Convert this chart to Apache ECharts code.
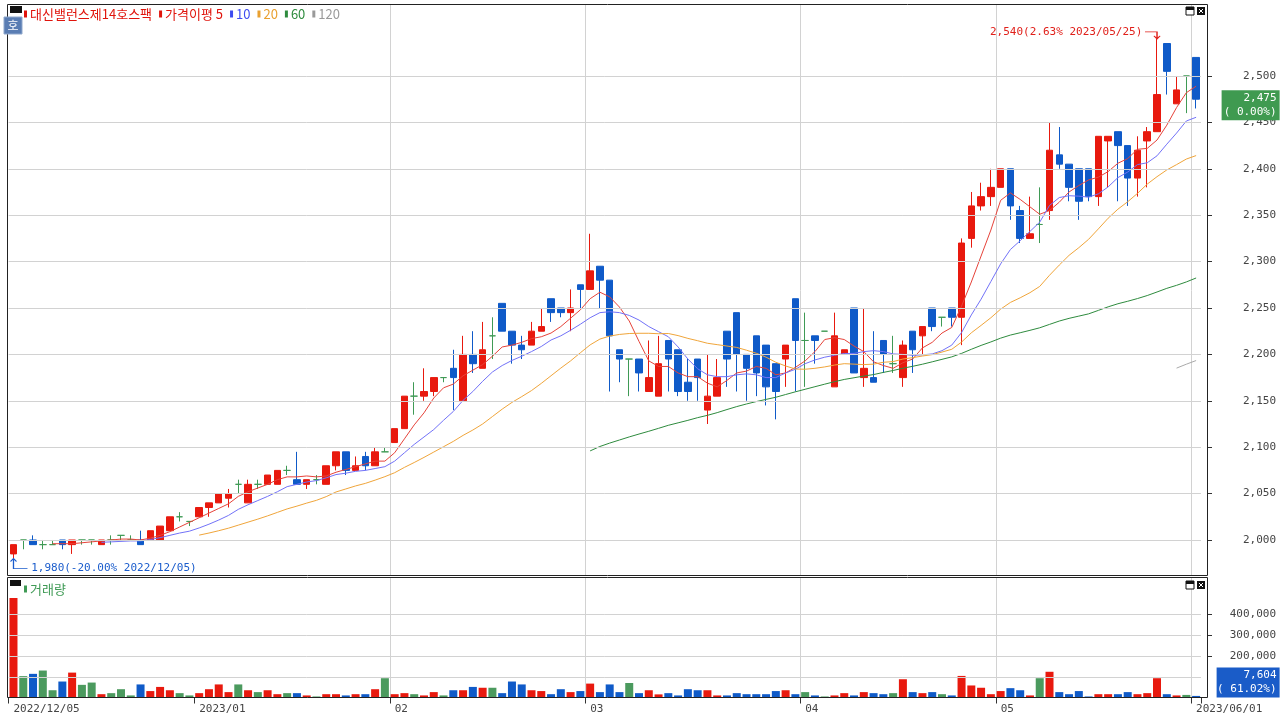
<!DOCTYPE html>
<html><head><meta charset="utf-8">
<script src="https://cdn.jsdelivr.net/npm/echarts@6/dist/echarts.min.js"></script>
<style>html,body{margin:0;padding:0;background:#fff}#c{width:1280px;height:720px}</style>
</head><body><div id="c"></div>
<script>
const dates = [
'2022/12/05','2022/12/06','2022/12/07','2022/12/08','2022/12/09','2022/12/12','2022/12/13','2022/12/14','2022/12/15','2022/12/16',
'2022/12/19','2022/12/20','2022/12/21','2022/12/22','2022/12/23','2022/12/26','2022/12/27','2022/12/28','2022/12/29',
'2023/01/02','2023/01/03','2023/01/04','2023/01/05','2023/01/06','2023/01/09','2023/01/10','2023/01/11','2023/01/12','2023/01/13',
'2023/01/16','2023/01/17','2023/01/18','2023/01/19','2023/01/20','2023/01/25','2023/01/26','2023/01/27','2023/01/30','2023/01/31',
'2023/02/01','2023/02/02','2023/02/03','2023/02/06','2023/02/07','2023/02/08','2023/02/09','2023/02/10','2023/02/13','2023/02/14',
'2023/02/15','2023/02/16','2023/02/17','2023/02/20','2023/02/21','2023/02/22','2023/02/23','2023/02/24','2023/02/27','2023/02/28',
'2023/03/02','2023/03/03','2023/03/06','2023/03/07','2023/03/08','2023/03/09','2023/03/10','2023/03/13','2023/03/14','2023/03/15',
'2023/03/16','2023/03/17','2023/03/20','2023/03/21','2023/03/22','2023/03/23','2023/03/24','2023/03/27','2023/03/28','2023/03/29',
'2023/03/30','2023/03/31',
'2023/04/03','2023/04/04','2023/04/05','2023/04/06','2023/04/07','2023/04/10','2023/04/11','2023/04/12','2023/04/13','2023/04/14',
'2023/04/17','2023/04/18','2023/04/19','2023/04/20','2023/04/21','2023/04/24','2023/04/25','2023/04/26','2023/04/27','2023/04/28',
'2023/05/02','2023/05/03','2023/05/04','2023/05/08','2023/05/09','2023/05/10','2023/05/11','2023/05/12','2023/05/15','2023/05/16',
'2023/05/17','2023/05/18','2023/05/19','2023/05/22','2023/05/23','2023/05/24','2023/05/25','2023/05/26','2023/05/30','2023/05/31',
'2023/06/01'];

const opens = [1985,2000,2000,1995,1995,2000,1995,2000,2000,1995, 2000,2005,2000,2000,2000,2000,2010,2025,2020,2025,
 2035,2040,2045,2060,2040,2060,2060,2060,2075,2065, 2060,2065,2060,2080,2095,2075,2090,2080,2095,2105,
 2120,2155,2155,2160,2175,2185,2150,2200,2185,2220, 2255,2225,2210,2210,2225,2260,2250,2245,2275,2270,
 2295,2280,2205,2195,2195,2160,2155,2215,2205,2170, 2195,2140,2155,2225,2245,2200,2220,2210,2190,2195,
 2260,2215,2220,2225,2165,2200,2250,2175,2175,2215, 2190,2175,2225,2220,2250,2240,2250,2240,2325,2360,
 2370,2380,2400,2355,2325,2340,2355,2415,2405,2400, 2400,2370,2430,2440,2425,2390,2430,2440,2535,2470,
 2500,2520];
const highs = [1995,2000,2005,2000,2000,2000,2000,2000,2000,2000, 2005,2005,2005,2010,2010,2015,2025,2030,2020,2035,
 2040,2050,2055,2065,2065,2065,2070,2075,2080,2095, 2065,2070,2080,2095,2095,2090,2095,2100,2100,2120,
 2155,2170,2185,2175,2175,2205,2220,2225,2235,2240, 2255,2225,2220,2235,2250,2260,2250,2270,2275,2330,
 2295,2280,2205,2195,2195,2215,2220,2215,2205,2195, 2195,2200,2195,2225,2245,2200,2220,2210,2190,2210,
 2260,2245,2220,2225,2245,2205,2250,2250,2225,2215, 2220,2215,2225,2230,2250,2240,2250,2325,2375,2385,
 2400,2400,2400,2360,2370,2380,2450,2445,2405,2400, 2400,2435,2435,2440,2425,2435,2445,2540,2535,2500,
 2500,2520];
const lows = [1980,1990,1995,1990,1995,1990,1985,1995,1995,1995, 1995,2000,2000,1995,2000,2000,2010,2020,2015,2025,
 2025,2040,2035,2050,2040,2055,2060,2060,2070,2060, 2055,2060,2060,2075,2070,2075,2075,2080,2095,2105,
 2120,2135,2150,2155,2170,2140,2150,2180,2185,2195, 2225,2190,2195,2210,2225,2235,2240,2225,2250,2270,
 2250,2160,2170,2155,2160,2160,2155,2160,2155,2150, 2150,2125,2155,2165,2160,2150,2155,2145,2130,2165,
 2160,2165,2190,2225,2165,2200,2180,2165,2170,2180, 2180,2165,2180,2200,2225,2230,2230,2210,2315,2355,
 2360,2380,2345,2320,2325,2320,2345,2400,2365,2345, 2365,2360,2380,2365,2360,2370,2380,2440,2480,2470,
 2460,2465];
const closes = [1995,2000,1995,1995,1995,1995,2000,2000,2000,2000, 2000,2005,2000,1995,2010,2015,2025,2025,2020,2035,
 2040,2050,2050,2060,2060,2060,2070,2075,2075,2060, 2065,2065,2080,2095,2075,2080,2080,2095,2095,2120,
 2155,2155,2160,2175,2175,2175,2200,2190,2205,2220, 2225,2210,2205,2225,2230,2245,2245,2250,2270,2290,
 2280,2220,2195,2195,2180,2175,2190,2195,2160,2160, 2175,2155,2175,2195,2200,2185,2180,2165,2160,2210,
 2215,2215,2215,2225,2220,2205,2180,2185,2170,2200, 2190,2210,2205,2230,2230,2240,2240,2320,2360,2370,
 2380,2400,2360,2325,2330,2340,2420,2405,2380,2365, 2370,2435,2435,2425,2390,2420,2440,2480,2505,2485,
 2500,2475];
const volumes = [480000,103000,114000,130000,35000,77000,120000,61000,72000,16000,
 21000,40000,10000,63000,31000,51000,35000,21000,10000,21000,
 40000,63000,26000,63000,35000,26000,35000,16000,21000,21000,
 10000,5000,16000,16000,10000,16000,16000,40000,93000,16000,
 21000,16000,10000,26000,10000,35000,35000,51000,47000,47000,
 21000,77000,63000,35000,31000,16000,40000,26000,31000,67000,
 26000,63000,26000,70000,21000,35000,15000,21000,10000,40000,
 35000,35000,10000,10000,21000,16000,16000,16000,31000,35000,
 16000,26000,10000,5000,10000,21000,10000,26000,21000,16000,
 21000,88000,26000,21000,26000,16000,10000,104000,58000,47000,
 16000,31000,45000,35000,10000,93000,124000,26000,16000,31000,
 5000,16000,16000,16000,26000,16000,21000,93000,16000,10000,
 12461,7604];

const priceTicks = [2000,2050,2100,2150,2200,2250,2300,2350,2400,2450,2500];
const volumeTicks = [200000,300000,400000];
const volumeGridValues = [100000,200000,300000,400000];
const xTickIndex = [0,19,39,59,81,101,121];
const xTickText = ['2022/12/05','2023/01','02','03','04','05','2023/06/01'];
const monthLineIndex = [19,39,59,81,101,121];
const maPeriods = [5,10,20,60,120];

const UP = '#e8190e', DOWN = '#0f5ac8', FLAT = '#3f9a55', VFLAT = '#4b9a5e';
const MA_COLORS = ['#e6433a','#7272f8','#f0a53a','#2e8b3e','#aaaaaa'];
const GRID = '#d2d2d2';
const MONO = 'DejaVu Sans Mono';
const KR = 'Noto Sans CJK KR';

const fmt = v => Number(v).toLocaleString('en-US');
const sign = i => closes[i] > opens[i] ? UP : (closes[i] < opens[i] ? DOWN : FLAT);
const candleData = dates.map((d,i) => {
  const c = sign(i);
  return {value:[opens[i],closes[i],lows[i],highs[i]],
    itemStyle:{color:c,color0:c,borderColor:c,borderColor0:c,borderColorDoji:c}};
});
const volData = dates.map((d,i) => {
  const c = sign(i) === FLAT ? VFLAT : sign(i);
  return {value:volumes[i], itemStyle:{color:c}};
});
function ma(n){
  return closes.map((c,i) => {
    if (i < n-1) return '-';
    let s = 0; for (let k=i-n+1;k<=i;k++) s += closes[k];
    return +(s/n).toFixed(2);
  });
}

const last = closes.length-1;
const maxH = Math.max(...highs), maxI = highs.indexOf(maxH);
const minL = Math.min(...lows), minI = lows.indexOf(minL);
const pctOf = v => ((v/closes[last]-1)*100).toFixed(2);
const vchg = (volumes[last]/volumes[last-1]*100).toFixed(2);

const mk = (c) => ({width:3,height:7,backgroundColor:c,verticalAlign:'middle',lineHeight:16});
const tx = (c) => ({color:c,fontFamily:KR,fontSize:13,fontWeight:'normal',lineHeight:16,verticalAlign:'middle'});

const chart = echarts.init(document.getElementById('c'), null, {renderer:'canvas'});
const option = {
  animation:false,
  backgroundColor:'#ffffff',
  textStyle:{fontFamily:MONO},
  title:[
    {left:24, top:6, padding:0, text:
      '{rm| }{g1| }{rn|대신밸런스제14호스팩}{g2| }{rm| }{g1| }{rn|가격이평 5}{g2| }{bm| }{g1| }{bn|10}{g2| }{om| }{g1| }{on|20}{g2| }{gm| }{g1| }{gn|60}{g2| }{km| }{g1| }{kn|120}',
     textStyle:{fontWeight:'normal', rich:{
      rm:mk('#e0140c'), bm:mk('#3d4cf0'), om:mk('#e9a030'), gm:mk('#2e8b3e'), km:mk('#9a9a9a'),
      g1:{width:3,lineHeight:16}, g2:{width:7,lineHeight:16},
      rn:tx('#e0140c'), bn:tx('#3d4cf0'), on:tx('#e9a030'), gn:tx('#2e8b3e'), kn:tx('#9a9a9a')
     }}},
    {left:24, top:581, padding:0, text:'{gm| }{g1| }{gn|거래량}',
     textStyle:{fontWeight:'normal', rich:{
      gm:mk('#3f9a55'), g1:{width:3,lineHeight:16}, gn:tx('#3f9a55')
     }}}
  ],
  grid:[
    {left:8.6, right:79, top:5, height:571},
    {left:8.6, right:79, top:578, height:119.5}
  ],
  xAxis:[
    {type:'category', gridIndex:0, data:dates, boundaryGap:true,
     axisLine:{show:false}, axisTick:{show:false}, axisLabel:{show:false},
     splitLine:{show:true, showMaxLine:false, showMinLine:false, interval:(i)=>monthLineIndex.includes(i), lineStyle:{color:GRID,width:1}}},
    {type:'category', gridIndex:1, data:dates, boundaryGap:true,
     axisLine:{show:false},
     axisTick:{show:true, interval:(i)=>xTickIndex.includes(i), length:6, lineStyle:{color:'#333'}},
     axisLabel:{show:true, interval:(i)=>xTickIndex.includes(i), formatter:(v,i)=>xTickText[xTickIndex.indexOf(i)] || '',
       align:'left', margin:6, color:'#444', fontSize:11, fontFamily:MONO, showMaxLabel:true, showMinLabel:true},
     splitLine:{show:true, showMaxLine:false, showMinLine:false, interval:(i)=>monthLineIndex.includes(i), lineStyle:{color:GRID,width:1}}}
  ],
  yAxis:[
    {type:'value', gridIndex:0, position:'right', offset:7, min:1961.2, max:2576.5,
     splitLine:{show:false}, axisLine:{show:false},
     axisTick:{show:true, customValues:priceTicks, length:4, lineStyle:{color:'#333'}},
     axisLabel:{show:true, customValues:priceTicks, formatter:fmt, align:'right', margin:68, color:'#444', fontSize:11, fontFamily:MONO}},
    {type:'value', gridIndex:1, position:'right', offset:7, min:0, max:576000,
     splitLine:{show:false}, axisLine:{show:false},
     axisTick:{show:true, customValues:volumeTicks, length:4, lineStyle:{color:'#333'}},
     axisLabel:{show:true, customValues:volumeTicks, formatter:fmt, align:'right', margin:68, color:'#444', fontSize:11, fontFamily:MONO}}
  ],
  series:[
    {type:'line', xAxisIndex:0, yAxisIndex:0, data:[], z:1, silent:true,
     markLine:{silent:true, symbol:['none','none'], label:{show:false}, animation:false,
       lineStyle:{color:GRID, type:'solid', width:1}, data:priceTicks.map(v=>({yAxis:v}))}},
    {type:'line', xAxisIndex:1, yAxisIndex:1, data:[], z:1, silent:true,
     markLine:{silent:true, symbol:['none','none'], label:{show:false}, animation:false,
       lineStyle:{color:GRID, type:'solid', width:1}, data:volumeGridValues.map(v=>({yAxis:v}))}},
    {type:'candlestick', name:'price', xAxisIndex:0, yAxisIndex:0, data:candleData, barWidth:7, z:3, clip:false,
     markPoint:{silent:true, animation:false, data:[
       {coord:[maxI, maxH], symbol:'path://M0,0L12,0L12,7M9,4L12,7L15,4', symbolSize:[15,7], symbolOffset:[-4.5,-3.5],
        itemStyle:{color:'transparent', borderColor:'#e0201a', borderWidth:1},
        label:{show:true, position:'left', distance:2, offset:[0,-3], color:'#e0201a', fontSize:11, fontFamily:MONO,
          formatter: fmt(maxH)+'('+pctOf(maxH)+'% '+dates[maxI]+')'}},
       {coord:[minI, minL], symbol:'path://M0,3L3,0L6,3M3,0L3,10L17,10', symbolSize:[17,10], symbolOffset:[5.5,5],
        itemStyle:{color:'transparent', borderColor:'#1a5ccc', borderWidth:1},
        label:{show:true, position:'right', distance:3, offset:[0,5], color:'#1a5ccc', fontSize:11, fontFamily:MONO,
          formatter: fmt(minL)+'('+pctOf(minL)+'% '+dates[minI]+')'}},
       {coord:[last, closes[last]], symbol:'rect', symbolSize:1, itemStyle:{color:'transparent'},
        label:{show:true, position:[26,-8.5], backgroundColor:'#3f9a50', padding:[1,3,1,0],
          formatter:'{a|'+fmt(closes[last])+'}\n{a|( '+pctOf(closes[last])+'%)}',
          rich:{a:{align:'right', width:55, color:'#ffffff', fontSize:11, fontFamily:MONO, lineHeight:14}}}}
     ]}},
    ...maPeriods.map((n,k)=>({type:'line', name:'MA'+n, xAxisIndex:0, yAxisIndex:0, data:ma(n), showSymbol:false, symbol:'none',
      z:4, silent:true, lineStyle:{color:MA_COLORS[k], width:1}})),
    {type:'bar', name:'volume', xAxisIndex:1, yAxisIndex:1, data:volData, barWidth:8, z:3,
     markPoint:{silent:true, animation:false, data:[
       {coord:[last, volumes[last]], symbol:'rect', symbolSize:1, itemStyle:{color:'transparent'},
        label:{show:true, position:[21,-27.9], backgroundColor:'#1a5cc8', padding:[1,3,1,0],
          formatter:'{a|'+fmt(volumes[last])+'}\n{a|( '+vchg+'%)}',
          rich:{a:{align:'right', width:60, color:'#ffffff', fontSize:11, fontFamily:MONO, lineHeight:14}}}}
     ]}}
  ],
  graphic:[
    {type:'rect', silent:true, z:10, shape:{x:7.5,y:4.5,width:1200,height:571}, style:{fill:'none',stroke:'#222',lineWidth:1}},
    {type:'rect', silent:true, z:10, shape:{x:7.5,y:577.5,width:1200,height:120}, style:{fill:'none',stroke:'#222',lineWidth:1}},
    {type:'rect', silent:true, z:10, shape:{x:10,y:6,width:12,height:7}, style:{fill:'#111'}},
    {type:'rect', silent:true, z:10, shape:{x:10,y:580,width:11,height:6}, style:{fill:'#111'}},
    {type:'rect', silent:true, z:10, shape:{x:4,y:17,width:18,height:17}, style:{fill:'#5a7db3',stroke:'#8fa8cc',lineWidth:1}},
    {type:'text', silent:true, z:11, x:13, y:25.5, style:{text:'호', fill:'#fff', font:'12px "Noto Sans CJK KR"', align:'center', verticalAlign:'middle'}},
    {type:'rect', silent:true, z:10, shape:{x:1186,y:7,width:8,height:8}, style:{fill:'#fff',stroke:'#111',lineWidth:1}},
    {type:'rect', silent:true, z:10, shape:{x:1186,y:7,width:8,height:3}, style:{fill:'#111'}},
    {type:'rect', silent:true, z:10, shape:{x:1197,y:7,width:8,height:8}, style:{fill:'#111'}},
    {type:'polyline', silent:true, z:11, shape:{points:[[1199,9],[1203,13]]}, style:{stroke:'#fff',lineWidth:1}},
    {type:'polyline', silent:true, z:11, shape:{points:[[1203,9],[1199,13]]}, style:{stroke:'#fff',lineWidth:1}},
    {type:'rect', silent:true, z:10, shape:{x:1186,y:581,width:8,height:8}, style:{fill:'#fff',stroke:'#111',lineWidth:1}},
    {type:'rect', silent:true, z:10, shape:{x:1186,y:581,width:8,height:3}, style:{fill:'#111'}},
    {type:'rect', silent:true, z:10, shape:{x:1197,y:581,width:8,height:8}, style:{fill:'#111'}},
    {type:'polyline', silent:true, z:11, shape:{points:[[1199,583],[1203,587]]}, style:{stroke:'#fff',lineWidth:1}},
    {type:'polyline', silent:true, z:11, shape:{points:[[1203,583],[1199,587]]}, style:{stroke:'#fff',lineWidth:1}}
  ]
};
chart.setOption(option);
</script>
</body></html>
